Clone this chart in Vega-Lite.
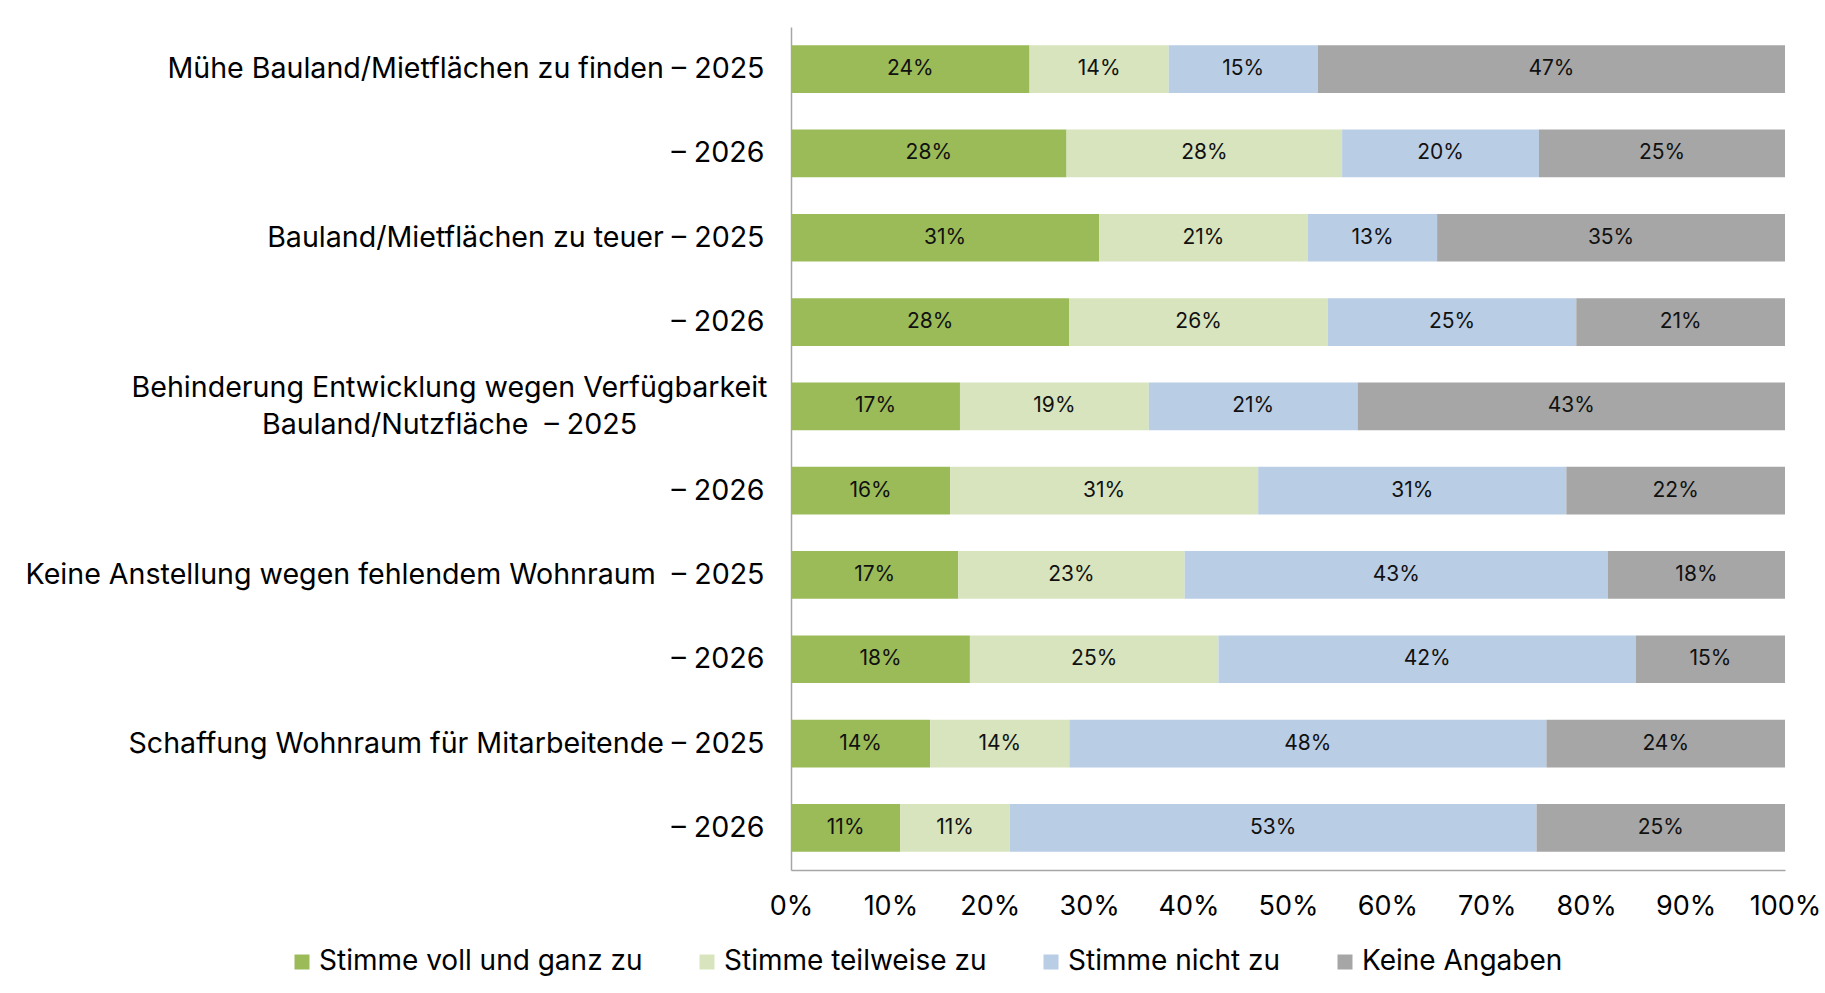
{
  "$schema": "https://vega.github.io/schema/vega-lite/v6.json",
  "autosize": {"type": "none"},
  "width": 994,
  "height": 843,
  "padding": {"left": 791, "top": 27, "right": 40, "bottom": 123},
  "background": "white",
  "config": {
    "font": "Inter",
    "view": {"stroke": null},
    "text": {"font": "Inter"}
  },
  "data": {
    "values": [
      {"row": "01#Mühe Bauland/Mietflächen zu finden – 2025", "cat": "Stimme voll und ganz zu", "k": 1, "v": 24},
      {"row": "01#Mühe Bauland/Mietflächen zu finden – 2025", "cat": "Stimme teilweise zu", "k": 2, "v": 14},
      {"row": "01#Mühe Bauland/Mietflächen zu finden – 2025", "cat": "Stimme nicht zu", "k": 3, "v": 15},
      {"row": "01#Mühe Bauland/Mietflächen zu finden – 2025", "cat": "Keine Angaben", "k": 4, "v": 47},
      {"row": "02#– 2026", "cat": "Stimme voll und ganz zu", "k": 1, "v": 28},
      {"row": "02#– 2026", "cat": "Stimme teilweise zu", "k": 2, "v": 28},
      {"row": "02#– 2026", "cat": "Stimme nicht zu", "k": 3, "v": 20},
      {"row": "02#– 2026", "cat": "Keine Angaben", "k": 4, "v": 25},
      {"row": "03#Bauland/Mietflächen zu teuer – 2025", "cat": "Stimme voll und ganz zu", "k": 1, "v": 31},
      {"row": "03#Bauland/Mietflächen zu teuer – 2025", "cat": "Stimme teilweise zu", "k": 2, "v": 21},
      {"row": "03#Bauland/Mietflächen zu teuer – 2025", "cat": "Stimme nicht zu", "k": 3, "v": 13},
      {"row": "03#Bauland/Mietflächen zu teuer – 2025", "cat": "Keine Angaben", "k": 4, "v": 35},
      {"row": "04#– 2026", "cat": "Stimme voll und ganz zu", "k": 1, "v": 28},
      {"row": "04#– 2026", "cat": "Stimme teilweise zu", "k": 2, "v": 26},
      {"row": "04#– 2026", "cat": "Stimme nicht zu", "k": 3, "v": 25},
      {"row": "04#– 2026", "cat": "Keine Angaben", "k": 4, "v": 21},
      {"row": "05#Behinderung Entwicklung wegen Verfügbarkeit|Bauland/Nutzfläche \u00a0– 2025", "cat": "Stimme voll und ganz zu", "k": 1, "v": 17},
      {"row": "05#Behinderung Entwicklung wegen Verfügbarkeit|Bauland/Nutzfläche \u00a0– 2025", "cat": "Stimme teilweise zu", "k": 2, "v": 19},
      {"row": "05#Behinderung Entwicklung wegen Verfügbarkeit|Bauland/Nutzfläche \u00a0– 2025", "cat": "Stimme nicht zu", "k": 3, "v": 21},
      {"row": "05#Behinderung Entwicklung wegen Verfügbarkeit|Bauland/Nutzfläche \u00a0– 2025", "cat": "Keine Angaben", "k": 4, "v": 43},
      {"row": "06#– 2026", "cat": "Stimme voll und ganz zu", "k": 1, "v": 16},
      {"row": "06#– 2026", "cat": "Stimme teilweise zu", "k": 2, "v": 31},
      {"row": "06#– 2026", "cat": "Stimme nicht zu", "k": 3, "v": 31},
      {"row": "06#– 2026", "cat": "Keine Angaben", "k": 4, "v": 22},
      {"row": "07#Keine Anstellung wegen fehlendem Wohnraum \u00a0– 2025", "cat": "Stimme voll und ganz zu", "k": 1, "v": 17},
      {"row": "07#Keine Anstellung wegen fehlendem Wohnraum \u00a0– 2025", "cat": "Stimme teilweise zu", "k": 2, "v": 23},
      {"row": "07#Keine Anstellung wegen fehlendem Wohnraum \u00a0– 2025", "cat": "Stimme nicht zu", "k": 3, "v": 43},
      {"row": "07#Keine Anstellung wegen fehlendem Wohnraum \u00a0– 2025", "cat": "Keine Angaben", "k": 4, "v": 18},
      {"row": "08#– 2026", "cat": "Stimme voll und ganz zu", "k": 1, "v": 18},
      {"row": "08#– 2026", "cat": "Stimme teilweise zu", "k": 2, "v": 25},
      {"row": "08#– 2026", "cat": "Stimme nicht zu", "k": 3, "v": 42},
      {"row": "08#– 2026", "cat": "Keine Angaben", "k": 4, "v": 15},
      {"row": "09#Schaffung Wohnraum für Mitarbeitende – 2025", "cat": "Stimme voll und ganz zu", "k": 1, "v": 14},
      {"row": "09#Schaffung Wohnraum für Mitarbeitende – 2025", "cat": "Stimme teilweise zu", "k": 2, "v": 14},
      {"row": "09#Schaffung Wohnraum für Mitarbeitende – 2025", "cat": "Stimme nicht zu", "k": 3, "v": 48},
      {"row": "09#Schaffung Wohnraum für Mitarbeitende – 2025", "cat": "Keine Angaben", "k": 4, "v": 24},
      {"row": "10#– 2026", "cat": "Stimme voll und ganz zu", "k": 1, "v": 11},
      {"row": "10#– 2026", "cat": "Stimme teilweise zu", "k": 2, "v": 11},
      {"row": "10#– 2026", "cat": "Stimme nicht zu", "k": 3, "v": 53},
      {"row": "10#– 2026", "cat": "Keine Angaben", "k": 4, "v": 25}
    ]
  },
  "transform": [
    {"stack": "v", "groupby": ["row"], "sort": [{"field": "k", "order": "ascending"}], "offset": "normalize", "as": ["v0", "v1"]},
    {"calculate": "(datum.v0 + datum.v1) / 2", "as": "mid"},
    {"calculate": "datum.v + '%'", "as": "lbl"}
  ],
  "encoding": {
    "y": {
      "field": "row",
      "type": "nominal",
      "sort": null,
      "title": null,
      "scale": {"paddingInner": 0.434, "paddingOuter": 0.217},
      "axis": {
        "labelExpr": "split(split(datum.value, '#')[1], '|')",
        "labelFont": "Inter",
        "labelFontSize": 28.6,
        "labelColor": "#000000",
        "labelLimit": 900,
        "labelLineHeight": 37,
        "labelAlign": {"condition": {"test": "indexof(datum.value, '05#') == 0", "value": "center"}, "value": "right"},
        "labelPadding": {"condition": {"test": "indexof(datum.value, '05#') == 0", "value": 342}, "value": 27},
        "labelOffset": {"condition": {"test": "indexof(datum.value, '05#') == 0", "value": -18}, "value": 0},
        "ticks": false,
        "domainColor": "#A6A6A6",
        "domainWidth": 1.5
      }
    }
  },
  "layer": [
    {
      "mark": {"type": "bar"},
      "encoding": {
        "x": {
          "field": "v0",
          "type": "quantitative",
          "scale": {"domain": [0, 1], "nice": false},
          "title": null,
          "axis": {
            "values": [0, 0.1, 0.2, 0.3, 0.4, 0.5, 0.6, 0.7, 0.8, 0.9, 1],
            "format": ".0%",
            "grid": false,
            "ticks": false,
            "labelFont": "Inter",
            "labelFontSize": 27,
            "labelColor": "#000000",
            "labelPadding": 23,
            "labelFlush": false,
            "labelOverlap": false,
            "domainColor": "#A6A6A6",
            "domainWidth": 1.5
          }
        },
        "x2": {"field": "v1"},
        "color": {
          "field": "cat",
          "type": "nominal",
          "scale": {
            "domain": ["Stimme voll und ganz zu", "Stimme teilweise zu", "Stimme nicht zu", "Keine Angaben"],
            "range": ["#9BBB59", "#D7E4BD", "#B9CDE5", "#A6A6A6"]
          },
          "legend": {
            "title": null,
            "orient": "none",
            "direction": "horizontal",
            "legendX": -503,
            "legendY": 921,
            "symbolType": "square",
            "symbolSize": 225,
            "symbolStrokeWidth": 0,
            "labelFont": "Inter",
            "labelFontSize": 28,
            "labelColor": "#000000",
            "labelOffset": 3,
            "labelLimit": 600,
            "columnPadding": 50
          }
        }
      }
    },
    {
      "mark": {"type": "text", "font": "Inter", "fontSize": 21, "color": "#111111", "baseline": "middle", "align": "center"},
      "encoding": {
        "x": {"field": "mid", "type": "quantitative"},
        "text": {"field": "lbl"}
      }
    }
  ]
}
